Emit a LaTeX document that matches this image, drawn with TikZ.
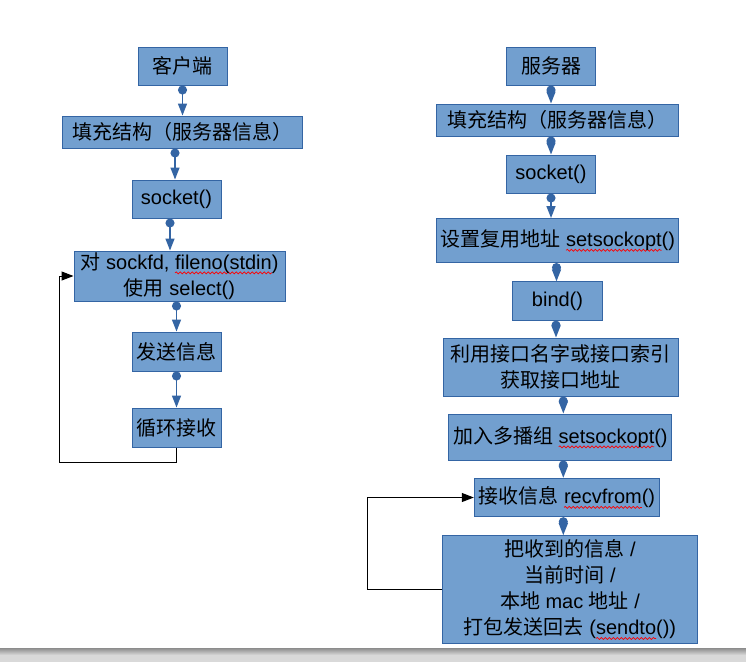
\documentclass[tikz,border=0pt]{standalone}
\usepackage{fontspec}
\setmainfont{Liberation Sans}
\newfontfamily\cjk{Noto Sans CJK SC}
\usetikzlibrary{arrows.meta,decorations.pathmorphing}
\definecolor{boxfill}{HTML}{729FCF}
\definecolor{boxline}{HTML}{3465A4}
\definecolor{connc}{HTML}{3465A4}
\newcommand\zh[1]{{\cjk #1}}
\newsavebox\wavebox
\newlength\wavelen
\newcommand\redwave[1]{\sbox\wavebox{#1}\setlength\wavelen{\wd\wavebox}%
  \rlap{\tikz[overlay,x=1pt,y=1pt]\draw[red,line width=0.7pt,decorate,decoration={snake,amplitude=1pt,segment length=4pt}] (0pt,-3.5pt) -- (\wavelen,-3.5pt);}%
  \usebox\wavebox}
\tikzset{
  box/.style={draw=boxline, fill=boxfill, line width=1pt, inner sep=0pt,
    align=center, font=\fontsize{20}{26}\selectfont, text=black},
  flow/.style={draw=connc, line width=1.5pt,
    {Circle[length=9pt,width=9pt]}-{Triangle[length=12pt,width=9pt]}},
  backloop/.style={draw=black, line width=1pt, -{Triangle[length=12pt,width=9pt]}}
}
\begin{document}
\begin{tikzpicture}[x=1pt,y=-1pt]
\useasboundingbox (0,0) rectangle (746,662);
\fill[white] (0,0) rectangle (746,662);
% bottom bar
\shade[top color=black!45, bottom color=black!15] (0,648) rectangle (746,655);
\fill[black!15] (0,655) rectangle (746,662);

% left column
\node[box, minimum width=89, minimum height=38] (c1) at (182.5,66) {\zh{客户端}};
\node[box, minimum width=240, minimum height=32] (c2) at (182,132) {\zh{填充结构（服务器信息）}};
\node[box, minimum width=89, minimum height=38] (c3) at (176.5,199) {socket()};
\node[box, minimum width=211, minimum height=50] (c4) at (179.5,276) {\zh{对} sockfd, \redwave{fileno(stdin})\\\zh{使用} select()};
\node[box, minimum width=89, minimum height=39] (c5) at (176.5,351.5) {\zh{发送信息}};
\node[box, minimum width=89, minimum height=39] (c6) at (176.5,427.5) {\zh{循环接收}};

% right column
\node[box, minimum width=89, minimum height=38] (s1) at (551,66) {\zh{服务器}};
\node[box, minimum width=242, minimum height=32] (s2) at (557.7,120) {\zh{填充结构（服务器信息）}};
\node[box, minimum width=89, minimum height=38] (s3) at (551,174) {socket()};
\node[box, minimum width=242, minimum height=44] (s4) at (557.8,240.5) {\zh{设置复用地址} \redwave{setsockopt}()};
\node[box, minimum width=89.6, minimum height=38.3] (s5) at (557.5,301) {bind()};
\node[box, minimum width=235, minimum height=58] (s6) at (560.8,367) {\zh{利用接口名字或接口索引}\\\zh{获取接口地址}};
\node[box, minimum width=223, minimum height=46] (s7) at (560.4,437) {\zh{加入多播组} \redwave{setsockopt}()};
\node[box, minimum width=185, minimum height=38.4] (s8) at (566.8,497.5) {\zh{接收信息} \redwave{recvfrom}()};
\node[box, minimum width=254.6, minimum height=107.6] (s9) at (570,589.5) {\zh{把收到的信息} /\\\zh{当前时间} /\\\zh{本地} mac \zh{地址} /\\\zh{打包发送回去} (\redwave{sendto}())};

% left connectors
\draw[flow] (c1.south) -- (c1.south |- c2.north);
\draw[flow] ([xshift=-1.5pt]c3.north |- c2.south) -- ([xshift=-1.5pt]c3.north);
\draw[flow] ([xshift=-6.5pt]c3.south) -- ([xshift=-6.5pt]c3.south |- c4.north);
\draw[flow] (c5.north |- c4.south) -- (c5.north);
\draw[flow] (c5.south) -- (c6.north);

% right connectors
\coordinate (xr) at (563.3,0);
\draw[flow] (s1.south) -- (s1.south |- s2.north);
\draw[flow] (s3.north |- s2.south) -- (s3.north);
\draw[flow] (s3.south) -- (s3.south |- s4.north);
\draw[flow] ([xshift=-1pt]s5.north |- s4.south) -- ([xshift=-1pt]s5.north);
\draw[flow] ([xshift=-1.5pt]s5.south) -- ([xshift=-1.5pt]s5.south |- s6.north);
\draw[flow] (s6.south -| xr) -- (s7.north -| xr);
\draw[flow] (s7.south -| xr) -- (s8.north -| xr);
\draw[flow] (s8.south -| xr) -- (s9.north -| xr);

% loops
\coordinate (lb) at (59,462);
\draw[backloop] (c6.south) |- (lb) |- (c4.west);
\coordinate (rb) at (367,589.5);
\draw[backloop] (s9.west) -- (rb) |- (s8.west);
\end{tikzpicture}
\end{document}
